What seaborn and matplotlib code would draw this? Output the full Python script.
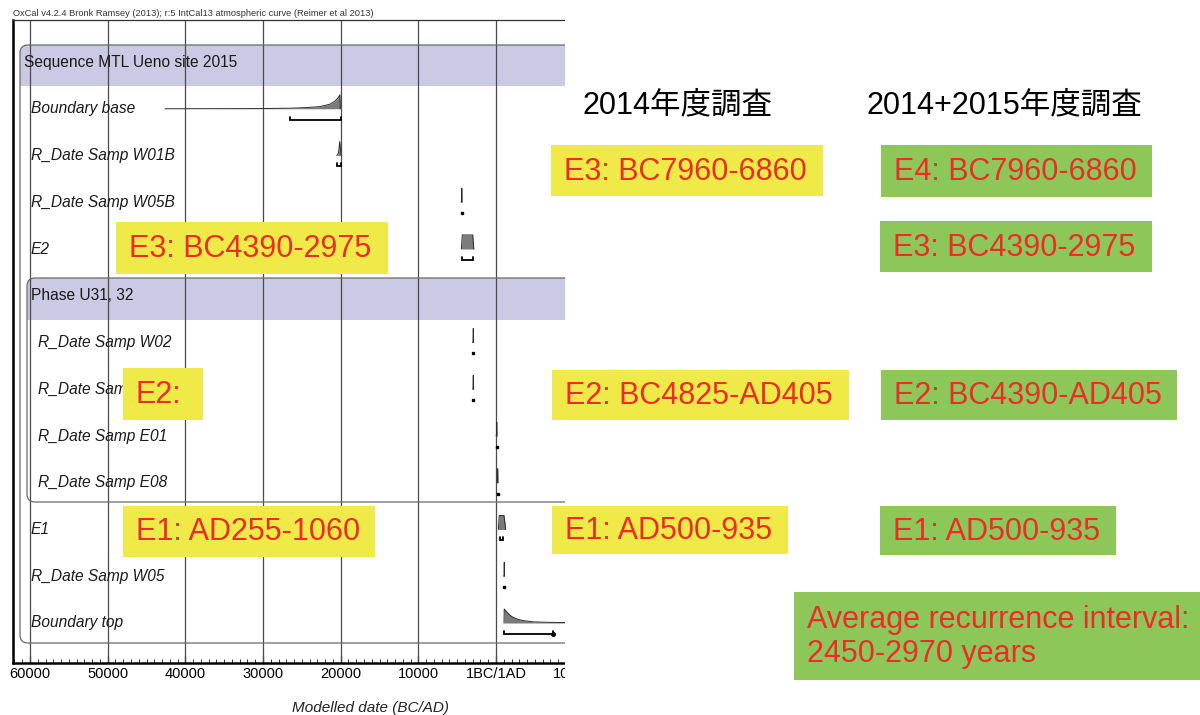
import numpy as np
import pandas as pd
import matplotlib
matplotlib.use("Agg")
import matplotlib.pyplot as plt
from matplotlib.patches import Rectangle, FancyBboxPatch
from matplotlib.transforms import IdentityTransform
from matplotlib.ticker import FixedLocator, MultipleLocator
import seaborn as sns

# ---------------------------------------------------------------- data
row_labels = [
    "Sequence MTL Ueno site 2015",
    "Boundary base",
    "R_Date Samp W01B",
    "R_Date Samp W05B",
    "E2",
    "Phase U31, 32",
    "R_Date Samp W02",
    "R_Date Samp W03",
    "R_Date Samp E01",
    "R_Date Samp E08",
    "E1",
    "R_Date Samp W05",
    "Boundary top",
]
header_rows = [0, 5]
phase_rows = [6, 7, 8, 9]

# posterior densities: calendar year (BC negative) and relative probability
boundary_base_year = [-42600, -35000, -30000, -26500, -24500, -22700, -21400, -20700, -20300, -20100, -20050]
boundary_base_prob = [0, 0.005, 0.015, 0.04, 0.08, 0.15, 0.32, 0.56, 0.8, 1.0, 0]
w01b_year = [-20500, -20300, -20200, -20120, -20060, -19950, -19850]
w01b_prob = [0, 0.15, 0.55, 1.0, 0.6, 0.1, 0]
w05b_year = [-4480, -4440, -4415, -4395, -4370]
w05b_prob = [0, 0.15, 1, 1, 0]
e2_year = [-4460, -4340, -3000, -2860]
e2_prob = [0, 1, 1, 0]
w02_year = [-3000, -2960, -2935, -2910, -2885]
w02_prob = [0, 0.12, 1, 1, 0]
w03_year = [-3000, -2960, -2935, -2910, -2885]
w03_prob = [0, 0.12, 1, 1, 0]
e01_year = [20, 60, 85, 105, 130]
e01_prob = [0, 0.12, 1, 1, 0]
e08_year = [140, 180, 205, 225, 250]
e08_prob = [0, 0.12, 1, 1, 0]
e1_year = [300, 420, 1030, 1250]
e1_prob = [0, 1, 1, 0]
w05_year = [990, 1030, 1055, 1075, 1100]
w05_prob = [0, 0.12, 1, 1, 0]
boundary_top_year = [1030, 1060, 1400, 1800, 2200, 2800, 3500, 4800, 6500, 9000, 13000]
boundary_top_prob = [0, 1, 0.78, 0.55, 0.4, 0.27, 0.17, 0.08, 0.05, 0.03, 0.02]

density_rows = [1, 2, 3, 4, 6, 7, 8, 9, 10, 11, 12]
density_years = [boundary_base_year, w01b_year, w05b_year, e2_year, w02_year, w03_year,
                 e01_year, e08_year, e1_year, w05_year, boundary_top_year]
density_probs = [boundary_base_prob, w01b_prob, w05b_prob, e2_prob, w02_prob, w03_prob,
                 e01_prob, e08_prob, e1_prob, w05_prob, boundary_top_prob]

# highest posterior density ranges (lo, hi)
range_lo = [-26500, -20450, -4410, -4390, -2920, -2920, 90, 210, 500, 1070, 1030]
range_hi = [-20000, -19950, -4405, -2975, -2915, -2915, 95, 215, 935, 1075, 7380]
range_end_dot = [False, False, False, False, False, False, False, False, False, False, True]

tick_years = [-60000, -50000, -40000, -30000, -20000, -10000, 0, 10000]
tick_labels = ["60000", "50000", "40000", "30000", "20000", "10000", "1BC/1AD", "10000"]

title_text = "OxCal v4.2.4 Bronk Ramsey (2013); r:5 IntCal13 atmospheric curve (Reimer et al 2013)"
xlabel_text = "Modelled date (BC/AD)"

col_headers = ["2014年度調査", "2014+2015年度調査"]
box_texts = [
    "E3: BC4390-2975", "E2:", "E1: AD255-1060",
    "E3: BC7960-6860", "E2: BC4825-AD405", "E1: AD500-935",
    "E4: BC7960-6860", "E3: BC4390-2975", "E2: BC4390-AD405", "E1: AD500-935",
    "Average recurrence interval:\n2450-2970 years",
]

# ---------------------------------------------------------------- style
W, H = 1200, 715
sns.set_theme(style="white")
plt.rcParams["font.family"] = ["Liberation Sans", "Noto Sans CJK JP", "DejaVu Sans"]

YELLOW = "#EFEA48"
GREEN = "#8DC75A"
RED = "#EB2D26"
LAVENDER = "#CACAE4"
FILL = "#7b7b7b"
EDGE = "#2b2b2b"

fig = plt.figure(figsize=(W / 100, H / 100), dpi=100)
fig.patch.set_facecolor("white")


def px_rect(x0, y0, x1, y1):
    """pixel box measured from the top-left corner -> display coords"""
    return x0, H - y1, x1 - x0, y1 - y0


# plot area in pixels: left 13, right 600 (the part beyond 565 is masked), top 20, bottom 663
ax_l, ax_r, ax_t, ax_b = 13, 600, 20, 663
ax = fig.add_axes([ax_l / W, 1 - ax_b / H, (ax_r - ax_l) / W, (ax_b - ax_t) / H])
ax.set_facecolor("white")

px_per_year = 466 / 60000.0
zero_px = 496
ax.set_xlim((ax_l - zero_px) / px_per_year, (ax_r - zero_px) / px_per_year)
row0_px, row_step = 62, 46.75
ax.set_ylim((ax_b - row0_px) / row_step, (ax_t - row0_px) / row_step)

# group boxes (sequence / phase) with lavender header bands
tr = IdentityTransform()
for (x0, y0, y1, band_bottom) in [(20, 45, 643, 86), (27, 278, 502, 320)]:
    bx, by, bw, bh = px_rect(x0, y0, 640, band_bottom)
    ax.add_patch(FancyBboxPatch((bx, by), bw, bh, boxstyle="round,pad=0,rounding_size=8",
                                transform=tr, facecolor=LAVENDER, edgecolor="none", zorder=0.5))
    bx, by, bw, bh = px_rect(x0, y0 + 15, 640, band_bottom)
    ax.add_patch(Rectangle((bx, by), bw, bh, transform=tr, facecolor=LAVENDER,
                           edgecolor="none", zorder=0.5))
    bx, by, bw, bh = px_rect(x0, y0, 640, y1)
    ax.add_patch(FancyBboxPatch((bx, by), bw, bh, boxstyle="round,pad=0,rounding_size=8",
                                transform=tr, facecolor="none", edgecolor="#6a6a6a",
                                lw=0.9, zorder=1.5))

# vertical grid lines at the major ticks
ax.vlines(tick_years, *ax.get_ylim(), color="#4a4a4a", lw=0.9, zorder=1)

# row labels
label_tr = ax.get_yaxis_transform()
for i, name in enumerate(row_labels):
    if i in header_rows:
        xpx = 24 if i == 0 else 31
        style = "normal"
    else:
        xpx = 38 if i in phase_rows else 31
        style = "italic"
    ax.text((xpx - ax_l) / (ax_r - ax_l), i, name, transform=label_tr, ha="left",
            va="center", fontsize=11.2, fontstyle=style, color="#1a1a1a", zorder=4)

# posterior distributions
DH = 0.3
for r, yrs, pr in zip(density_rows, density_years, density_probs):
    yrs = np.asarray(yrs, float)
    top = r - np.asarray(pr, float) * DH
    ax.fill_between(yrs, r, top, color=FILL, lw=0, zorder=3)
    df = pd.DataFrame({"year": yrs, "y": top})
    sns.lineplot(data=df, x="year", y="y", ax=ax, sort=False, estimator=None,
                 color=EDGE, lw=0.7, zorder=3.2, legend=False)

# ranges below each distribution
BOFF, TICK = 0.23, 0.06
for r, lo, hi, dot in zip(density_rows, range_lo, range_hi, range_end_dot):
    yb = r + BOFF
    if hi - lo < 200:
        ax.plot([(lo + hi) / 2], [yb], marker="s", ms=2.0, color="black", zorder=3.5)
    else:
        ax.plot([lo, lo, hi, hi], [yb - TICK, yb, yb, yb - TICK], color="black",
                lw=1.3, zorder=3.5, solid_joinstyle="miter")
        if dot:
            ax.plot([hi], [yb], marker="o", ms=2.6, color="black", zorder=3.5)

# axes frame and ticks
for side in ["left", "bottom"]:
    ax.spines[side].set_visible(True)
    ax.spines[side].set_linewidth(1.8)
    ax.spines[side].set_color("black")
ax.spines["top"].set_linewidth(0.9)
ax.spines["top"].set_color("#333333")
ax.spines["right"].set_visible(False)
ax.set_yticks([])
ax.xaxis.set_major_locator(FixedLocator(tick_years))
ax.set_xticklabels(tick_labels)
ax.xaxis.set_minor_locator(MultipleLocator(1000))
ax.tick_params(axis="x", which="major", direction="in", length=5, width=0.9,
               labelsize=10.5, pad=3, colors="black", bottom=True)
ax.tick_params(axis="x", which="minor", direction="in", length=3, width=0.7,
               colors="#333333", bottom=True)
ax.set_xlabel("")
ax.set_ylabel("")

fig.text(ax_l / W, 1 - 14 / H, title_text, fontsize=6.7, color="#333333", ha="left", va="center")
fig.text(370 / W, 1 - 708 / H, xlabel_text, fontsize=11, fontstyle="italic",
         color="#222222", ha="center", va="center")

# white field to the right of the plot
fig.add_artist(Rectangle((565, 0), W - 565, H, transform=tr, facecolor="white",
                         edgecolor="none", zorder=5))

# column headings
fig.text(582 / W, 1 - 105 / H, col_headers[0], fontsize=22, color="black",
         ha="left", va="center", zorder=7)
fig.text(866 / W, 1 - 105 / H, col_headers[1], fontsize=22, color="black",
         ha="left", va="center", zorder=7)

# annotation boxes: (x0, y0, x1, y1, colour)
box_geom = [
    (116, 222, 388, 274, YELLOW),
    (123, 368, 203, 420, YELLOW),
    (123, 506, 375, 557, YELLOW),
    (551, 145, 823, 196, YELLOW),
    (552, 370, 849, 420, YELLOW),
    (552, 506, 788, 554, YELLOW),
    (881, 145, 1152, 197, GREEN),
    (880, 221, 1152, 272, GREEN),
    (881, 370, 1177, 420, GREEN),
    (880, 506, 1116, 555, GREEN),
    (794, 592, 1200, 680, GREEN),
]
for (x0, y0, x1, y1, col), txt in zip(box_geom, box_texts):
    bx, by, bw, bh = px_rect(x0, y0, x1, y1)
    fig.add_artist(Rectangle((bx, by), bw, bh, transform=tr, facecolor=col,
                             edgecolor="none", zorder=6))
    fig.text((x0 + 13) / W, 1 - ((y0 + y1) / 2 + 1) / H, txt, fontsize=22, color=RED,
             ha="left", va="center", linespacing=1.2, zorder=7)

fig.savefig("out.png", dpi=100, facecolor="white")
